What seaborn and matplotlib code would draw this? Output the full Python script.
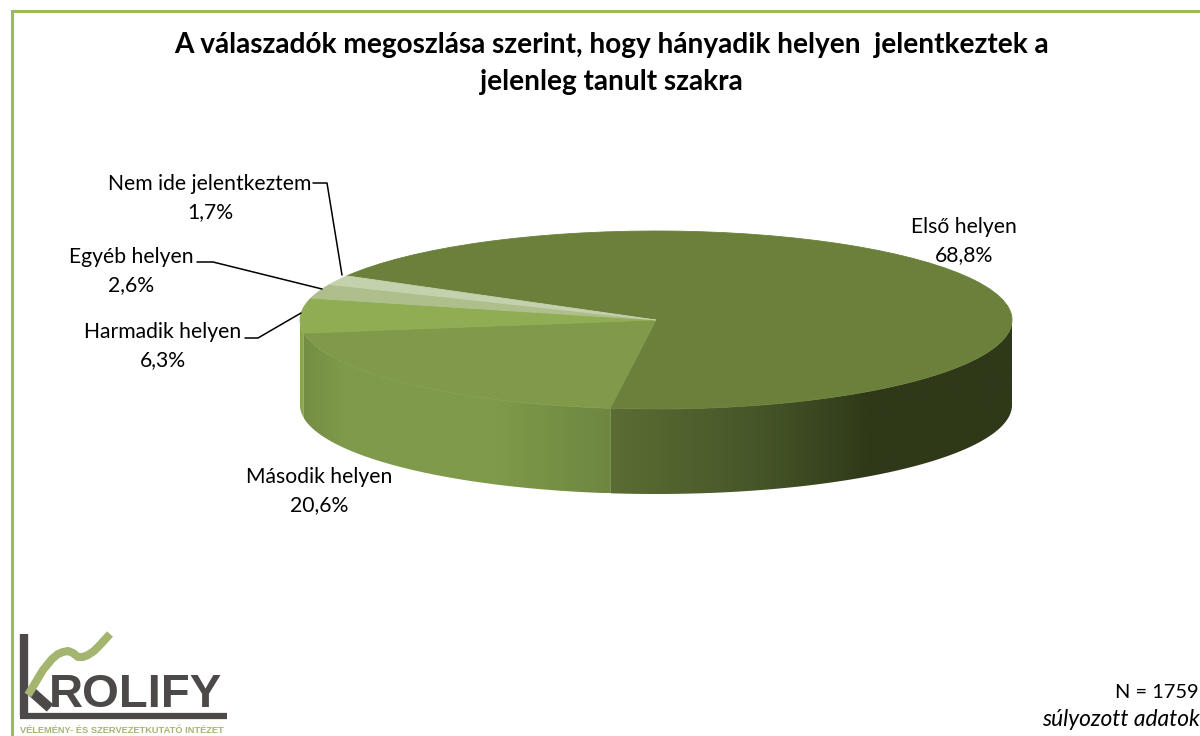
import numpy as np
import matplotlib
matplotlib.use('Agg')
import matplotlib.pyplot as plt
import matplotlib.colors as mcolors
from matplotlib.patches import Polygon
import seaborn as sns

labels = ['Első helyen', 'Második helyen', 'Harmadik helyen', 'Egyéb helyen', 'Nem ide jelentkeztem']
values = [68.8, 20.6, 6.3, 2.6, 1.7]
top_colors = ['#6b803a', '#81994b', '#91ad54', '#aebf8c', '#c4d1ad']
title_lines = ['A válaszadók megoszlása szerint, hogy hányadik helyen  jelentkeztek a',
               'jelenleg tanult szakra']
note_lines = ['N = 1759', 'súlyozott adatok']

# pie geometry in picture pixels
CX, CY = 656, 320
RX, RY = 356, 89
DEPTH = 85
START = 150.3

# x position (in radii) -> colour of the side wall, one ramp per slice
side_ramps = {
    0: [(-0.13, '#5b6d33'), (0.30, '#465528'), (0.60, '#2f3919'), (1.0, '#2f3919')],
    1: [(-1.0, '#738c43'), (-0.88, '#7f9a4a'), (-0.45, '#7f9a4a'), (-0.13, '#6e8640')],
    2: [(-1.0, '#8aa551'), (-0.9, '#8aa551')],
}

sns.set_theme(style='white')
plt.rcParams['font.family'] = ['Lato', 'DejaVu Sans']


def pct(v):
    return f'{v:.1f}%'.replace('.', ',')


def draw_side(ax):
    # walk clockwise from the start angle, only the front half is visible
    edges = START - np.cumsum([0] + values) * 3.6
    for i, ramp in side_ramps.items():
        ang = np.radians(np.linspace(edges[i], edges[i + 1], 600))
        ang = ang[np.sin(ang) <= 0]
        x = np.cos(ang)
        y = np.sin(ang)
        low = y - DEPTH / RY
        outline = np.column_stack([np.r_[x, x[::-1]], np.r_[y, low[::-1]]])

        xs = np.linspace(x.min(), x.max(), 512)
        rgb = np.array([mcolors.to_rgb(p[1]) for p in ramp])
        stops = [p[0] for p in ramp]
        grad = np.stack([np.interp(xs, stops, rgb[:, c]) for c in range(3)], axis=-1)[None, :, :]
        im = ax.imshow(grad, extent=(x.min(), x.max(), low.min(), y.max()),
                       aspect='auto', zorder=1, interpolation='bilinear')
        im.set_clip_path(Polygon(outline, closed=True, transform=ax.transData))


def draw_logo(page):
    dark = '#4c4948'
    green = '#a3b56f'
    page.plot([24, 24], [634, 716], color=dark, lw=6, solid_capstyle='butt', zorder=5)
    page.plot([20, 227], [716, 716], color=dark, lw=4.5, solid_capstyle='butt', zorder=5)
    page.plot([32, 50], [692, 708], color=dark, lw=7, solid_capstyle='butt', zorder=5)
    page.plot([28, 43, 52, 58, 63, 68, 73, 78, 83, 88, 94, 100, 110],
              [695, 670, 659, 654, 652, 651, 653, 657, 657, 655, 651, 645, 634],
              color=green, lw=5.8, solid_capstyle='butt', solid_joinstyle='round', zorder=6)
    page.text(49, 707, 'ROLIFY', fontsize=34, fontweight='bold', color=dark,
              family='Liberation Sans', ha='left', va='baseline', zorder=7)
    page.text(20, 733, 'VÉLEMÉNY- ÉS SZERVEZETKUTATÓ INTÉZET', fontsize=6.65, fontweight='bold',
              color=green, family='Liberation Sans', ha='left', va='baseline')


fig = plt.figure(figsize=(12, 7.36), dpi=100)

ax = fig.add_axes([0, 0, 1, 1])
wedges, _ = ax.pie(values, colors=top_colors, startangle=START, counterclock=False, radius=1,
                   wedgeprops={'linewidth': 0.6, 'zorder': 3})
for w in wedges:
    w.set_edgecolor(w.get_facecolor())
draw_side(ax)
ax.set_aspect('auto')
ax.set_xlim(-CX / RX, (1200 - CX) / RX)
ax.set_ylim(-(736 - CY) / RY, CY / RY)

page = fig.add_axes([0, 0, 1, 1])
page.set_xlim(0, 1200)
page.set_ylim(736, 0)
page.axis('off')
page.patch.set_alpha(0)

# frame
page.plot([12, 12, 1200], [736, 11, 11], color='#9bbb59', lw=2.2, solid_joinstyle='miter')

page.text(611, 45, title_lines[0], fontsize=20.2, fontweight='bold', color='black', ha='center', va='center')
page.text(611, 82, title_lines[1], fontsize=20.2, fontweight='bold', color='black', ha='center', va='center')

# label centres
label_pos = [(964, 241), (319, 491), (163, 346), (131, 271), (210, 198)]
for name, v, (lx, ly) in zip(labels, values, label_pos):
    page.text(lx, ly - 14, name, fontsize=15.2, color='black', ha='center', va='center')
    page.text(lx, ly + 14, pct(v), fontsize=15.2, color='black', ha='center', va='center')

# leader lines
page.plot([313, 327, 342], [183, 183, 275], color='black', lw=1.1)
page.plot([197, 213, 322], [262, 262, 289], color='black', lw=1.1)
page.plot([245, 258, 301], [338, 338, 313], color='black', lw=1.1)

page.text(1199, 692, note_lines[0], fontsize=14.4, color='black', ha='right', va='center')
page.text(1200, 720, note_lines[1], fontsize=16.4, style='italic', color='black', ha='right', va='center')

draw_logo(page)

fig.savefig('out.png', dpi=100)
plt.close(fig)
